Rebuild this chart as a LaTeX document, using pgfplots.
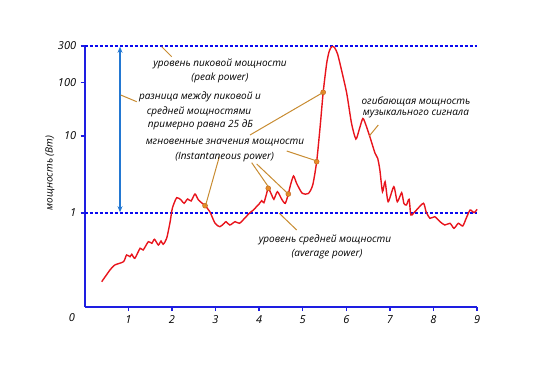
\documentclass[border=0pt]{standalone}
\usepackage{fontspec}
\setmainfont{Open Sans}
\usepackage{pgfplots}
\usetikzlibrary{arrows.meta}
\pgfplotsset{compat=1.18}
\definecolor{curve}{RGB}{232,20,28}
\definecolor{dblue}{RGB}{10,10,240}
\definecolor{spine}{RGB}{30,30,225}
\definecolor{arrowc}{RGB}{35,120,210}
\definecolor{lead}{RGB}{200,140,50}
\definecolor{dotf}{RGB}{232,140,40}
\definecolor{dotd}{RGB}{190,95,25}
\pgfplotstableread{
x u
0.39 25.3
0.58 37
0.69 42
0.89 45.3
0.96 52
1.04 50.3
1.08 52.7
1.15 48.7
1.27 58.7
1.34 57
1.46 65.3
1.54 63.7
1.60 67.7
1.69 62
1.75 66
1.80 62.7
1.88 68.7
1.96 85.3
2.01 98.7
2.11 109.3
2.21 107
2.28 103.7
2.36 108
2.44 106
2.53 113
2.61 107
2.76 101.3
2.87 95.3
2.99 83.7
3.10 80.3
3.20 83.7
3.24 85.3
3.33 82
3.45 85.3
3.55 83.7
3.68 89.3
3.79 94.3
3.87 97
3.94 100.3
4.00 103
4.06 106.3
4.11 104.3
4.17 113
4.21 118.7
4.29 112
4.34 107.7
4.42 115.3
4.52 107.7
4.60 103.7
4.67 113
4.72 122
4.79 131
4.86 123.7
4.99 113.7
5.13 113.5
5.23 122
5.32 145.3
5.40 180.3
5.47 214.7
5.55 243.7
5.61 256
5.67 260.5
5.73 259.5
5.80 253
5.89 237
6.01 213.7
6.12 183.7
6.22 168
6.30 178
6.38 188.5
6.45 182
6.54 170.3
6.66 153.7
6.72 148.7
6.77 137
6.83 115.3
6.89 125.3
6.96 105.3
7.09 120.3
7.17 105.3
7.27 114.3
7.32 103.7
7.38 102
7.44 107.7
7.48 92
7.54 93.7
7.61 97
7.77 103.7
7.83 95.3
7.92 88.7
8.03 90.3
8.15 85.3
8.26 82
8.38 83.7
8.47 78.7
8.57 83.7
8.67 81
8.75 88.7
8.84 97
8.93 94.3
9.00 97.7
}\envelope
\pgfplotstableread{
x u
2.76 101.3
4.21 118.7
4.67 113
5.32 145.3
5.47 214.7
}\instant
\begin{document}
\begin{tikzpicture}[x=1pt,y=1pt,
  lbl/.style={font=\itshape\fontsize{10}{12}\selectfont, inner sep=0pt, text=black}]
\path (0,0) rectangle (552,389);
\begin{axis}[
  at={(84.7pt,82pt)}, anchor=south west,
  scale only axis, width=392.4pt, height=261pt,
  xmin=0, xmax=9, ymin=0, ymax=261,
  axis x line*=bottom, axis y line*=left,
  axis line style={spine, line width=1.6pt},
  xtick={1,2,3,4,5,6,7,8,9},
  ytick={94,171,224.3,261},
  yticklabels={1,10,100,300},
  tick style={spine, line width=1.3pt},
  major tick length=4pt,
  tick align=outside,
  tick label style={font=\itshape\fontsize{11}{13}\selectfont, text=black},
  /pgf/number format/assume math mode=true,
  xticklabel style={yshift=-1pt},
  yticklabel style={xshift=-1pt},
  clip=false,
]
\addplot[color=dblue, dash pattern=on 3pt off 2pt, line width=1.1pt, forget plot] coordinates {(0,261) (9,261)};
\addplot[color=dblue, dash pattern=on 3pt off 2pt, line width=1.1pt, forget plot] coordinates {(0,94) (9,94)};
\addplot[curve, line width=1.4pt, smooth, tension=0.4] table[x=x,y=u] {\envelope};
\addplot[only marks, mark=*, mark size=2.5pt, mark options={fill=dotf, draw=dotd, line width=0.4pt}] table[x=x,y=u] {\instant};
\draw[arrowc, line width=1.2pt, -{Stealth[length=6pt,width=5pt]}] (axis cs:0.81,175) -- (axis cs:0.81,94.8);
\draw[arrowc, line width=1.2pt, -{Stealth[length=6pt,width=5pt]}] (axis cs:0.81,175) -- (axis cs:0.81,260.2);
\end{axis}
% leader lines (pixel coords: X, 389-Y)
\begin{scope}[lead, line width=1pt]
\draw (161.7,342.3) -- (171.7,332.3);
\draw (120.7,294) -- (136.7,287.3);
\draw (250,254) -- (323.3,296.7);
\draw (286.7,238) -- (316,228.3);
\draw (219.3,232.3) -- (205.5,183.3);
\draw (251.7,226.3) -- (268.3,202.3);
\draw (256.7,225) -- (288.3,195);
\draw (378.3,264) -- (369.3,253);
\draw (279.3,175.7) -- (296.7,159);
\end{scope}
% texts
\node[lbl] at (220,325) {уровень пиковой мощности};
\node[lbl] at (220,310.7) {(peak power)};
\node[lbl] at (200,291.7) {разница между пиковой и};
\node[lbl] at (199,277.3) {средней мощностями};
\node[lbl] at (200.5,264) {примерно равна 25 дБ};
\node[lbl] at (225,246.3) {мгновенные значения мощности};
\node[lbl] at (224.7,231.7) {(Instantaneous power)};
\node[lbl] at (416,287.3) {огибающая мощность};
\node[lbl] at (416,274.7) {музыкального сигнала};
\node[lbl] at (325,149) {уровень средней мощности};
\node[lbl] at (327,135) {(average power)};
\node[lbl, rotate=90] at (50,216) {мощность (Вт)};
\node[font=\itshape\fontsize{11}{13}\selectfont, inner sep=0pt] at (72,71) {0};
\end{tikzpicture}
\end{document}
